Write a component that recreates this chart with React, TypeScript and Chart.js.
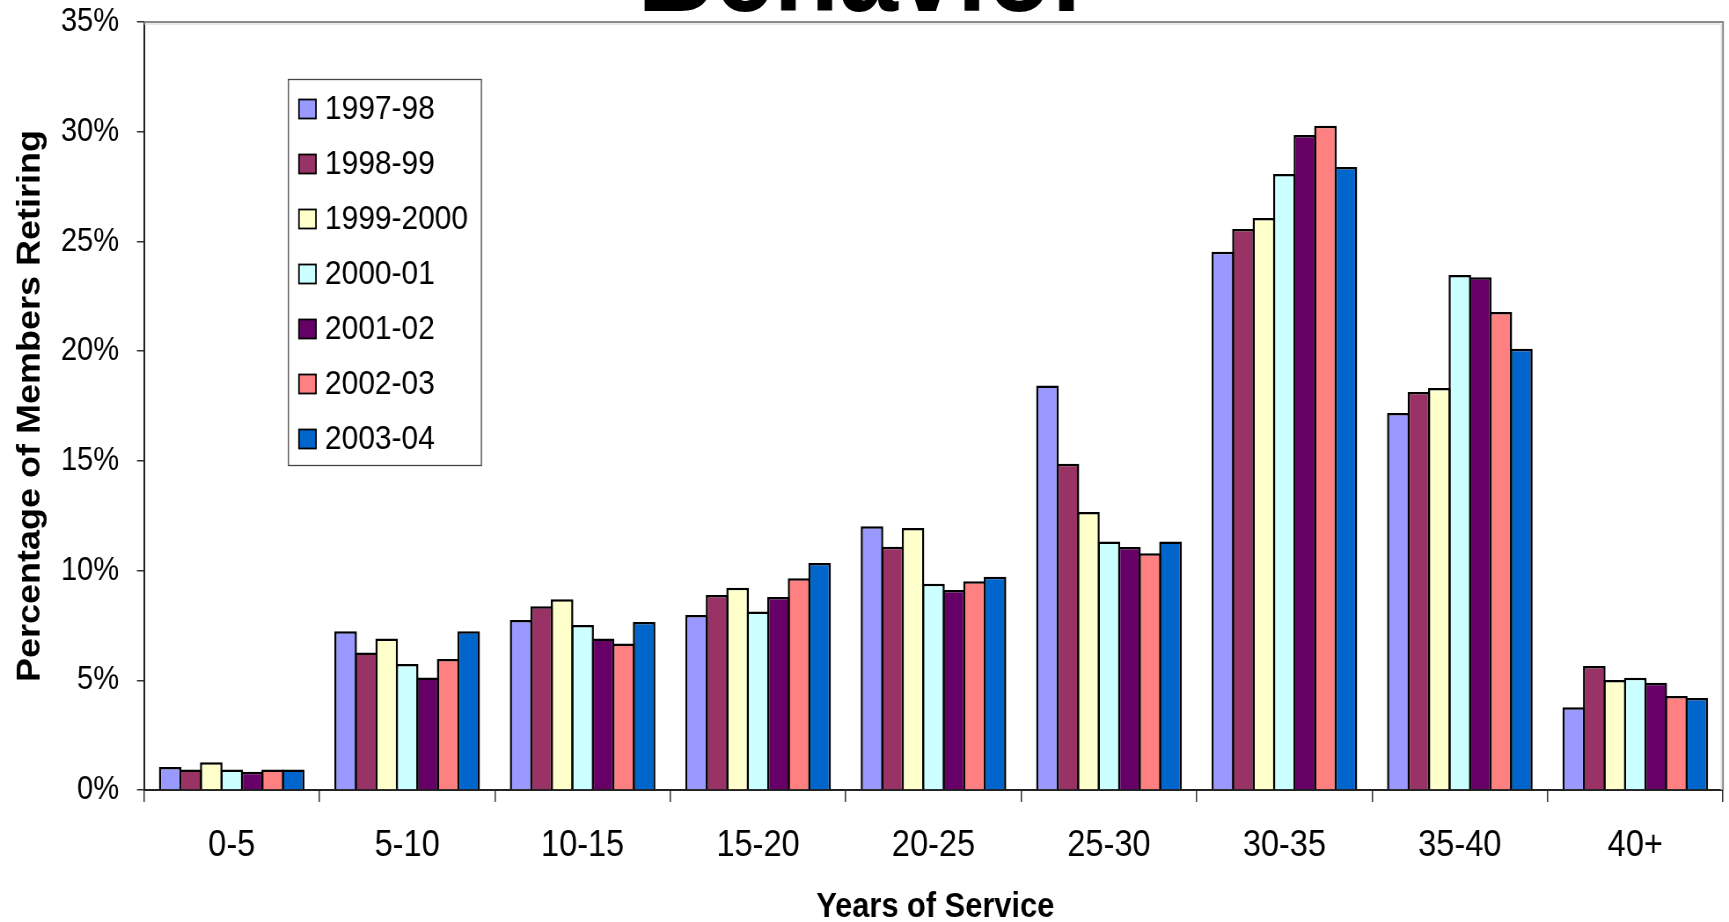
import React, { useEffect, useRef } from "react";
import { Chart, registerables } from "chart.js";

Chart.register(...registerables);

const titleText = "Behavior";
const xAxisTitle = "Years of Service";
const yAxisTitle = "Percentage of Members Retiring";

const categories = ["0-5", "5-10", "10-15", "15-20", "20-25", "25-30", "30-35", "35-40", "40+"];
const seriesLabels = ["1997-98", "1998-99", "1999-2000", "2000-01", "2001-02", "2002-03", "2003-04"];
const seriesColors = ["#9999FF", "#993366", "#FFFFCC", "#CCFFFF", "#660066", "#FF8080", "#0066CC"];

const v1997 = [1.05, 7.23, 7.75, 7.98, 12.02, 18.43, 24.53, 17.18, 3.77];
const v1998 = [0.93, 6.27, 8.37, 8.89, 11.09, 14.87, 25.57, 18.14, 5.65];
const v1999 = [1.26, 6.9, 8.69, 9.22, 11.94, 12.67, 26.07, 18.32, 5.01];
const v2000 = [0.93, 5.74, 7.52, 8.13, 9.4, 11.33, 28.07, 23.47, 5.12];
const v2001 = [0.83, 5.13, 6.9, 8.8, 9.11, 11.07, 29.85, 23.37, 4.89];
const v2002 = [0.93, 5.97, 6.68, 9.65, 9.51, 10.79, 30.27, 21.78, 4.28];
const v2003 = [0.93, 7.23, 7.66, 10.35, 9.72, 11.33, 28.39, 20.11, 4.19];
const seriesValues = [v1997, v1998, v1999, v2000, v2001, v2002, v2003];

const yMin = 0;
const yMax = 35;
const yStep = 5;
const tickSuffix = "%";

// the reference is horizontally condensed: render wider, display squeezed
const SX = 0.88;
const W = 1729;
const H = 922;
const CW = Math.round(W / SX);

const FONT = "'Liberation Sans', Arial, Helvetica, sans-serif";

const decorPlugin = {
  id: "decor",
  afterDraw(chart: any) {
    const { ctx, chartArea } = chart;
    const { left, right, top, bottom } = chartArea;
    ctx.save();
    // plot area border (top / right)
    ctx.strokeStyle = "#8a8a8a";
    ctx.lineWidth = 2;
    ctx.beginPath();
    ctx.moveTo(left, top);
    ctx.lineTo(right, top);
    ctx.lineTo(right, bottom);
    ctx.stroke();
    ctx.strokeStyle = "#d4d4d4";
    ctx.lineWidth = 1;
    ctx.beginPath();
    ctx.moveTo(left, top + 2);
    ctx.lineTo(right - 2, top + 2);
    ctx.lineTo(right - 2, bottom);
    ctx.stroke();

    // title (cut off at the top)
    ctx.fillStyle = "#000";
    ctx.font = `bold 121px ${FONT}`;
    ctx.textAlign = "center";
    ctx.textBaseline = "alphabetic";
    ctx.fillText(titleText, chart.width / 2 + 1, 11);

    // x axis title
    ctx.font = `bold 35px ${FONT}`;
    ctx.textBaseline = "alphabetic";
    ctx.fillText(xAxisTitle, (left + right) / 2 + 2, bottom + 127);

    // legend
    const lx = left + 144 / SX;
    const ly = top + 57;
    const lw = 193 / SX;
    const lh = 386;
    ctx.fillStyle = "#fff";
    ctx.fillRect(lx, ly, lw, lh);
    ctx.strokeStyle = "#444";
    ctx.lineWidth = 1.3;
    ctx.strokeRect(lx + 0.5, ly + 0.5, lw, lh);
    const datasets = chart.data.datasets;
    ctx.font = `34px ${FONT}`;
    ctx.textAlign = "left";
    ctx.textBaseline = "middle";
    datasets.forEach((ds: any, i: number) => {
      const cy = ly + 30 + i * 55;
      const sx = lx + 11 / SX;
      const sw = 17 / SX;
      ctx.fillStyle = ds.backgroundColor;
      ctx.fillRect(sx, cy - 9.5, sw, 19);
      ctx.strokeStyle = "#000";
      ctx.lineWidth = 1.8;
      ctx.strokeRect(sx, cy - 9.5, sw, 19);
      ctx.fillStyle = "#000";
      ctx.fillText(ds.label, lx + 37 / SX, cy + 1);
    });
    ctx.restore();
  },
};

export default function App() {
  const canvasRef = useRef<HTMLCanvasElement | null>(null);

  useEffect(() => {
    const canvas = canvasRef.current;
    if (!canvas) return;
    Chart.defaults.color = "#000";
    const chart = new Chart(canvas, {
      type: "bar",
      data: {
        labels: categories,
        datasets: seriesLabels.map((label, i) => ({
          label,
          data: seriesValues[i],
          backgroundColor: seriesColors[i],
          borderColor: "#000",
          borderWidth: 2.5,
          categoryPercentage: 0.818,
          barPercentage: 1.1,
        })),
      },
      options: {
        responsive: false,
        maintainAspectRatio: false,
        devicePixelRatio: 1,
        animation: false,
        layout: { padding: { top: 22, right: 6 / SX, left: 0, bottom: 0 } },
        plugins: {
          legend: { display: false },
          title: { display: false },
          tooltip: { enabled: false },
        },
        scales: {
          x: {
            afterFit: (scale: any) => {
              scale.height = 132;
            },
            grid: {
              offset: true,
              drawOnChartArea: false,
              drawTicks: true,
              tickLength: 12,
              color: "#333",
              lineWidth: 1.5,
            },
            border: { display: true, color: "#222", width: 2 },
            ticks: {
              color: "#000",
              padding: 22,
              maxRotation: 0,
              autoSkip: false,
              font: { family: FONT, size: 37 },
            },
          },
          y: {
            min: yMin,
            max: yMax,
            afterFit: (scale: any) => {
              scale.width = 144 / SX;
              scale.paddingTop = 0;
              scale.paddingBottom = 0;
            },
            grid: {
              drawOnChartArea: false,
              drawTicks: true,
              tickLength: 8,
              color: "#333",
              lineWidth: 1.5,
            },
            border: { display: true, color: "#222", width: 2 },
            ticks: {
              stepSize: yStep,
              padding: 20.4,
              color: "#000",
              font: { family: FONT, size: 33 },
              callback: (v: any) => `${v}${tickSuffix}`,
            },
            title: {
              display: true,
              text: yAxisTitle,
              color: "#000",
              font: { family: FONT, size: 36, weight: "bold", lineHeight: 1 },
              padding: { top: 17.2, bottom: 0 },
            },
          },
        },
      },
      plugins: [decorPlugin],
    } as any);
    return () => chart.destroy();
  }, []);

  return (
    <div style={{ position: "fixed", left: 0, top: 0, width: W, height: H, overflow: "hidden", background: "#fff" }}>
      <canvas ref={canvasRef} width={CW} height={H} style={{ display: "block", width: W, height: H }} />
    </div>
  );
}
